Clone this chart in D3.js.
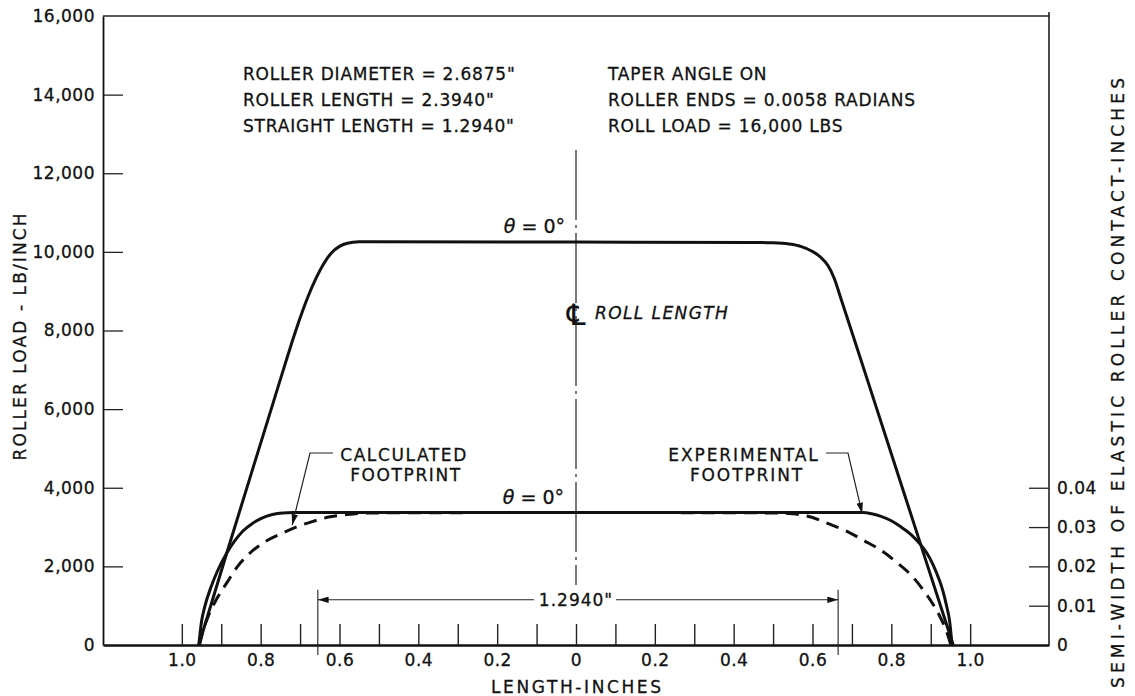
<!DOCTYPE html>
<html>
<head>
<meta charset="utf-8">
<script src="https://cdn.jsdelivr.net/npm/d3@7"></script>
<style>
  html, body { margin: 0; padding: 0; background: #fff; }
  svg { display: block; }
  text { font-family: "DejaVu Sans", sans-serif; fill: #111; stroke: #111; stroke-width: 0.3px; }
</style>
</head>
<body>
<svg id="chart" width="1135" height="696"></svg>
<script>
// ---------------- DATA ----------------
// Roller load distribution (theta = 0 deg), length in inches (negative = left of centre), load in lb/inch
const loadX = [-0.957, -0.886, -0.766, -0.740, -0.720, -0.700, -0.680, -0.660, -0.640, -0.620, -0.600, -0.580, -0.550, -0.520, 0.000, 0.450, 0.500, 0.540, 0.570, 0.600, 0.620, 0.640, 0.655, 0.670, 0.736, 0.876, 0.957];
const loadY = [0, 2341, 6234, 7080, 7720, 8320, 8860, 9320, 9700, 9980, 10140, 10220, 10255, 10260, 10250, 10240, 10230, 10200, 10140, 10010, 9870, 9640, 9330, 8880, 6845, 2509, 0];

// Experimental footprint: semi-width of elastic roller contact (inches)
const expX = [-0.957, -0.950, -0.942, -0.925, -0.911, -0.886, -0.865, -0.845, -0.820, -0.794, -0.770, -0.744, -0.718, 0.000, 0.726, 0.750, 0.772, 0.800, 0.822, 0.850, 0.873, 0.890, 0.906, 0.920, 0.931, 0.940, 0.948, 0.954];
const expW = [0, 0.0060, 0.0097, 0.0150, 0.0185, 0.0234, 0.0266, 0.0290, 0.0310, 0.0324, 0.0332, 0.0336, 0.0337, 0.0337, 0.0337, 0.0334, 0.0328, 0.0316, 0.0302, 0.0281, 0.0257, 0.0234, 0.0204, 0.0170, 0.0137, 0.0100, 0.0060, 0];

// Calculated footprint (dashed)
const calcX = [-0.955, -0.945, -0.934, -0.910, -0.886, -0.860, -0.827, -0.790, -0.744, -0.710, -0.675, -0.624, -0.580, -0.520, 0.000, 0.500, 0.550, 0.586, 0.645, 0.690, 0.728, 0.775, 0.815, 0.850, 0.881, 0.905, 0.924, 0.940, 0.951];
const calcW = [0, 0.0040, 0.0071, 0.0120, 0.0158, 0.0198, 0.0234, 0.0262, 0.0285, 0.0300, 0.0312, 0.0326, 0.0332, 0.0336, 0.0337, 0.0336, 0.0334, 0.0328, 0.0307, 0.0288, 0.0267, 0.0240, 0.0209, 0.0178, 0.0140, 0.0105, 0.0071, 0.0035, 0];

// Axis ticks
const loadTicks = [0, 2000, 4000, 6000, 8000, 10000, 12000, 14000, 16000];
const semiTicks = [0, 0.01, 0.02, 0.03, 0.04];
const semiTickLabels = ["0", "0.01", "0.02", "0.03", "0.04"];
const lengthTicks = [-1.0, -0.9, -0.8, -0.7, -0.6, -0.5, -0.4, -0.3, -0.2, -0.1, 0, 0.1, 0.2, 0.3, 0.4, 0.5, 0.6, 0.7, 0.8, 0.9, 1.0];
const lengthLabelTicks = [-1.0, -0.8, -0.6, -0.4, -0.2, 0, 0.2, 0.4, 0.6, 0.8, 1.0];
const lengthTickLabels = ["1.0", "0.8", "0.6", "0.4", "0.2", "0", "0.2", "0.4", "0.6", "0.8", "1.0"];

const notesLeft = ["ROLLER DIAMETER = 2.6875\"", "ROLLER LENGTH = 2.3940\"", "STRAIGHT LENGTH = 1.2940\""];
const notesRight = ["TAPER ANGLE ON", "ROLLER ENDS = 0.0058 RADIANS", "ROLL LOAD = 16,000 LBS"];

// ---------------- CHART ----------------
const svg = d3.select("#chart");
const L = 103, R = 1049, T = 16, B = 645;

const x = d3.scaleLinear().domain([-1.2, 1.2]).range([L, R]);
const yLoad = d3.scaleLinear().domain([0, 16000]).range([B, T]);
const ySemi = d3.scaleLinear().domain([0, 0.16]).range([B, T]);

const defs = svg.append("defs");
defs.append("marker").attr("id", "arrow")
  .attr("viewBox", "0 0 10 6").attr("refX", 10).attr("refY", 3)
  .attr("markerWidth", 11).attr("markerHeight", 6.5).attr("markerUnits", "userSpaceOnUse")
  .attr("orient", "auto-start-reverse")
  .append("path").attr("d", "M0,0 L10,3 L0,6 Z").attr("fill", "#111");

// Top border
svg.append("line").attr("x1", L).attr("x2", R).attr("y1", T).attr("y2", T)
  .attr("stroke", "#222").attr("stroke-width", 1.5);

// Left axis
const gLeft = svg.append("g").attr("transform", `translate(${L},0)`)
  .call(d3.axisLeft(yLoad).tickValues(loadTicks).tickSize(-20).tickSizeOuter(0)
    .tickPadding(8).tickFormat(d3.format(",")));
gLeft.select(".domain").attr("stroke", "#111").attr("stroke-width", 1.8);
gLeft.selectAll(".tick line").attr("stroke", "#222").attr("stroke-width", 1.3);
gLeft.selectAll(".tick text").style("font-size", "17px").style("letter-spacing", "0.5px").attr("fill", "#111");
gLeft.selectAll(".tick").filter(d => d === 0 || d === 16000).select("line").remove();
gLeft.attr("font-size", null).attr("font-family", null);

// Right axis
const gRight = svg.append("g").attr("transform", `translate(${R},0)`)
  .call(d3.axisRight(ySemi).tickValues(semiTicks).tickSize(-20).tickSizeOuter(0)
    .tickPadding(8).tickFormat((d, i) => semiTickLabels[i]));
gRight.select(".domain").attr("stroke", "#111").attr("stroke-width", 1.5)
  .attr("d", `M0,${T - 4}V${B}`);
gRight.selectAll(".tick line").attr("stroke", "#222").attr("stroke-width", 1.3);
gRight.selectAll(".tick text").style("font-size", "17px").style("letter-spacing", "0.5px").attr("fill", "#111");
gRight.selectAll(".tick").filter(d => d === 0).select("line").remove();
gRight.attr("font-size", null).attr("font-family", null);

// Bottom axis: ticks pointing up, labels below
const gBotTicks = svg.append("g").attr("transform", `translate(0,${B})`)
  .call(d3.axisBottom(x).tickValues(lengthTicks).tickSize(-21).tickSizeOuter(0).tickFormat(""));
gBotTicks.select(".domain").attr("stroke", "#111").attr("stroke-width", 2.6);
gBotTicks.selectAll(".tick line").attr("stroke", "#222").attr("stroke-width", 1.4);

const gBotLabels = svg.append("g").attr("transform", `translate(0,${B})`)
  .call(d3.axisBottom(x).tickValues(lengthLabelTicks).tickSize(0).tickPadding(9)
    .tickFormat((d, i) => lengthTickLabels[i]));
gBotLabels.select(".domain").remove();
gBotLabels.selectAll(".tick text").style("font-size", "17px").style("letter-spacing", "0.5px").attr("fill", "#111");
gBotLabels.attr("font-size", null).attr("font-family", null);

// Axis titles
svg.append("text").attr("transform", `translate(26,337) rotate(-90)`)
  .attr("text-anchor", "middle").style("font-size", "17px")
  .attr("textLength", 247).attr("lengthAdjust", "spacing")
  .text("ROLLER LOAD - LB/INCH");
svg.append("text").attr("x", 576).attr("y", 693)
  .attr("text-anchor", "middle").style("font-size", "17px")
  .attr("textLength", 170).attr("lengthAdjust", "spacing")
  .text("LENGTH-INCHES");
svg.append("text").attr("transform", `translate(1124,383) rotate(-90)`)
  .attr("text-anchor", "middle").style("font-size", "17px")
  .attr("textLength", 610).attr("lengthAdjust", "spacing")
  .text("SEMI-WIDTH OF ELASTIC ROLLER CONTACT-INCHES");

// Notes
notesLeft.forEach((t, i) => {
  svg.append("text").attr("x", 243).attr("y", 80 + i * 26)
    .style("font-size", "17px").style("letter-spacing", "0.8px").text(t);
});
notesRight.forEach((t, i) => {
  svg.append("text").attr("x", 608).attr("y", 80 + i * 26)
    .style("font-size", "17px").style("letter-spacing", "0.8px").text(t);
});

// Centre line (dash-dot)
svg.append("line").attr("x1", x(0)).attr("x2", x(0)).attr("y1", 150).attr("y2", 585)
  .attr("stroke", "#222").attr("stroke-width", 1.2).attr("stroke-dasharray", "70,5,3,5");
// centre-line symbol + label
svg.append("text").attr("x", x(0)).attr("y", 325).attr("text-anchor", "middle")
  .style("font-size", "29px").style("font-style", "italic").style("stroke-width", "0.2px").text("\u2104");
svg.append("text").attr("x", 595).attr("y", 319)
  .style("font-size", "17px").style("font-style", "italic").style("letter-spacing", "1.4px")
  .text("ROLL LENGTH");

// Curves
const lineLoad = d3.line().x(d => x(d[0])).y(d => yLoad(d[1])).curve(d3.curveMonotoneX);
const lineSemi = d3.line().x(d => x(d[0])).y(d => ySemi(d[1])).curve(d3.curveMonotoneX);

svg.append("path").datum(d3.zip(calcX, calcW)).attr("d", lineSemi)
  .attr("fill", "none").attr("stroke", "#111").attr("stroke-width", 3)
  .attr("stroke-dasharray", "13,8");
svg.append("path").datum(d3.zip(expX, expW)).attr("d", lineSemi)
  .attr("fill", "none").attr("stroke", "#111").attr("stroke-width", 3);
svg.append("path").datum(d3.zip(loadX, loadY)).attr("d", lineLoad)
  .attr("fill", "none").attr("stroke", "#111").attr("stroke-width", 3);

// theta labels
function thetaLabel(xr, yb) {
  const t = svg.append("text").attr("x", xr).attr("y", yb).attr("text-anchor", "end")
    .style("font-size", "19px");
  t.append("tspan").style("font-style", "italic").text("\u03B8");
  t.append("tspan").text(" = 0\u00B0");
}
thetaLabel(565, yLoad(10260) - 9);
thetaLabel(564, ySemi(0.0337) - 9);

// Footprint labels with leaders
svg.append("text").attr("x", 404).attr("y", 461).attr("text-anchor", "middle")
  .style("font-size", "17px").style("letter-spacing", "1.6px").text("CALCULATED");
svg.append("text").attr("x", 406).attr("y", 481).attr("text-anchor", "middle")
  .style("font-size", "17px").style("letter-spacing", "1.6px").text("FOOTPRINT");
svg.append("path")
  .attr("d", `M333,453 H310 L${x(-0.72)},${ySemi(0.0300) - 2}`)
  .attr("fill", "none").attr("stroke", "#222").attr("stroke-width", 1.2)
  .attr("marker-end", "url(#arrow)");

svg.append("text").attr("x", 744).attr("y", 461).attr("text-anchor", "middle")
  .style("font-size", "17px").style("letter-spacing", "1.9px").text("EXPERIMENTAL");
svg.append("text").attr("x", 747).attr("y", 481).attr("text-anchor", "middle")
  .style("font-size", "17px").style("letter-spacing", "1.9px").text("FOOTPRINT");
svg.append("path")
  .attr("d", `M826,453 H848 L${x(0.726)},${ySemi(0.0337) + 1}`)
  .attr("fill", "none").attr("stroke", "#222").attr("stroke-width", 1.2)
  .attr("marker-end", "url(#arrow)");

// Straight-length dimension
const dimY = ySemi(0.0115);
[-0.655, 0.665].forEach(v => {
  svg.append("line").attr("x1", x(v)).attr("x2", x(v)).attr("y1", dimY - 10).attr("y2", B + 10)
    .attr("stroke", "#222").attr("stroke-width", 1.1);
});
svg.append("line").attr("x1", 534).attr("x2", x(-0.655)).attr("y1", dimY).attr("y2", dimY)
  .attr("stroke", "#222").attr("stroke-width", 1.1).attr("marker-end", "url(#arrow)");
svg.append("line").attr("x1", 616).attr("x2", x(0.665)).attr("y1", dimY).attr("y2", dimY)
  .attr("stroke", "#222").attr("stroke-width", 1.1).attr("marker-end", "url(#arrow)");
svg.append("text").attr("x", 576).attr("y", dimY + 6).attr("text-anchor", "middle")
  .style("font-size", "17px").style("letter-spacing", "1px").text("1.2940\"");
</script>
</body>
</html>
